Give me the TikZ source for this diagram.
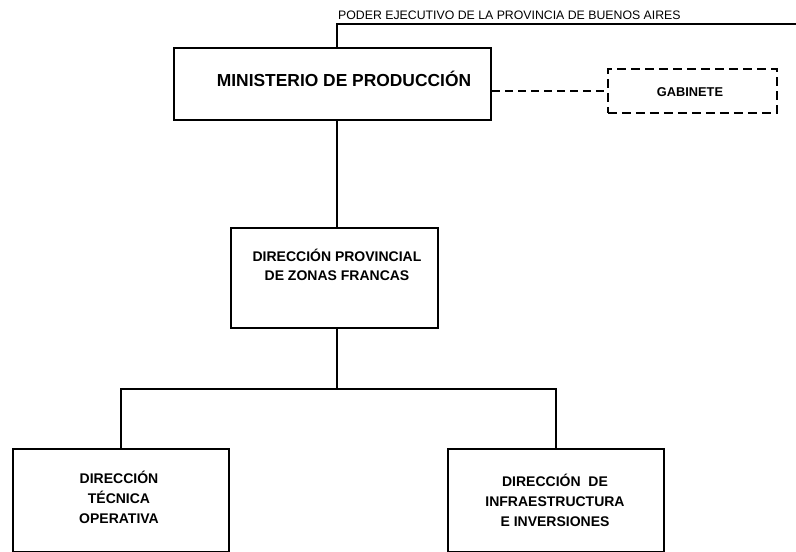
\documentclass[tikz,border=0pt]{standalone}
\usepackage{fontspec}
\setmainfont{Liberation Sans}
\begin{document}
\begin{tikzpicture}[x=1pt,y=-1pt,
  boxstyle/.style={draw, line width=2.2pt, rectangle, inner sep=0pt, anchor=north west},
  dashbox/.style={draw, line width=1.8pt, dash pattern=on 9pt off 5pt, rectangle, inner sep=0pt, anchor=north west},
  lbl/.style={font=\fontsize{14}{20}\selectfont\bfseries, align=center, inner sep=0pt},
  conn/.style={line width=1.5pt},
  dconn/.style={line width=1.5pt, dash pattern=on 8pt off 5pt}]
\useasboundingbox (0,0) rectangle (796,552);
% boxes
\node[boxstyle, minimum width=317pt, minimum height=72pt] (min) at (173,47) {};
\node[dashbox, minimum width=169pt, minimum height=44pt] (gab) at (607,68) {};
\node[boxstyle, minimum width=207pt, minimum height=100pt] (dpzf) at (230,227) {};
\node[boxstyle, minimum width=216pt, minimum height=103pt] (dto) at (12,448) {};
\node[boxstyle, minimum width=216pt, minimum height=103pt] (die) at (447,448) {};
% texts
\node[lbl, font=\fontsize{17.4}{20}\selectfont\bfseries] (mintxt) at (344,79) {MINISTERIO DE PRODUCCIÓN};
\node[lbl, font=\fontsize{12.8}{14}\selectfont\bfseries] (gabtxt) at (690,92) {GABINETE};
\node[lbl, font=\fontsize{14}{19}\selectfont\bfseries] (dpzftxt) at (337,265) {DIRECCIÓN PROVINCIAL\\DE ZONAS FRANCAS};
\node[lbl] (dtotxt) at (119,497) {DIRECCIÓN\\TÉCNICA\\OPERATIVA};
\node[lbl] (dietxt) at (555,500) {DIRECCIÓN~~DE\\INFRAESTRUCTURA\\E INVERSIONES};
\node[inner sep=0pt, anchor=base west, font=\fontsize{12.3}{14}\selectfont] (pe) at (338,19) {PODER EJECUTIVO DE LA PROVINCIA DE BUENOS AIRES};
% connectors
\coordinate (topend) at (796,24);
\coordinate (busy) at (337,389);
\draw[conn] (min.north -| busy) |- (topend);
\draw[conn] (min.south -| busy) -- (dpzf.north -| busy);
\draw[dconn] (min.east |- gab.west) -- (gab.west);
\draw[conn] (dpzf.south -| busy) -- (busy);
\draw[conn] (dto.north) |- (busy) -| (die.north);
\end{tikzpicture}
\end{document}
